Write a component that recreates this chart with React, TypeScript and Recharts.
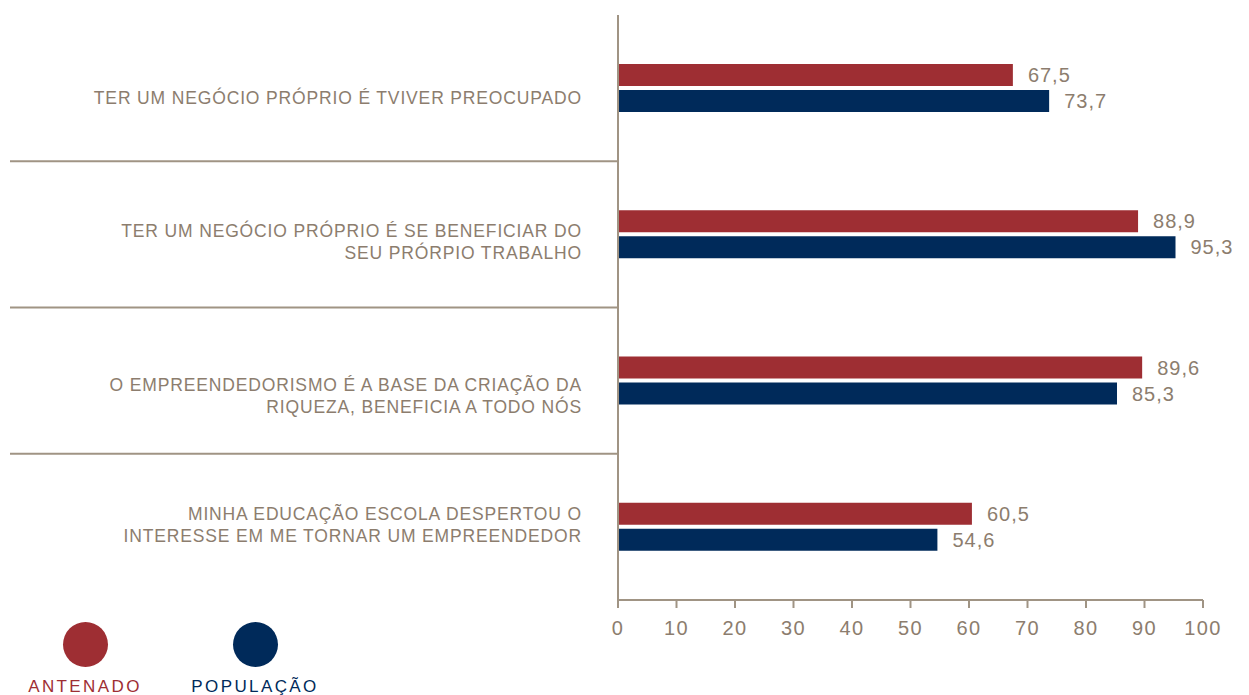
import React from 'react';
import { BarChart, Bar, XAxis, YAxis, LabelList } from 'recharts';

const categories = [
  'TER UM NEGÓCIO PRÓPRIO É TVIVER PREOCUPADO',
  'TER UM NEGÓCIO PRÓPRIO É SE BENEFICIAR DO\nSEU PRÓRPIO TRABALHO',
  'O EMPREENDEDORISMO É A BASE DA CRIAÇÃO DA\nRIQUEZA, BENEFICIA A TODO NÓS',
  'MINHA EDUCAÇÃO ESCOLA DESPERTOU O\nINTERESSE EM ME TORNAR UM EMPREENDEDOR',
];
const antenado = [67.5, 88.9, 89.6, 60.5];
const populacao = [73.7, 95.3, 85.3, 54.6];
const xTicks = [0, 10, 20, 30, 40, 50, 60, 70, 80, 90, 100];

const data = categories.map((name, i) => ({ name, antenado: antenado[i], populacao: populacao[i] }));

const W = 1249;
const H = 695;
const MARGIN = { top: 15, right: 46, bottom: 65, left: 0 };
const X_AXIS_H = 30;
const PLOT_H = H - MARGIN.top - MARGIN.bottom - X_AXIS_H;
const BAND = PLOT_H / categories.length;
// the original labels are not quite centred on their bar pairs
const LABEL_SHIFT = [10, 7, 15, -2];

const TAUPE = '#8c7d6e';
const LINE = '#a09484';
const RED = '#9e2e33';
const NAVY = '#002a5a';
const FONT = '"Liberation Sans", Arial, sans-serif';
const TICK_MARGIN = 36;

const fmt = (v: any) => Number(v).toFixed(1).replace('.', ',');

const CategoryTick = (props: any) => {
  const { x, y, payload, index } = props;
  const lines = String(payload.value).split('\n');
  const lh = 22;
  const startY = y + (LABEL_SHIFT[index] || 0) - ((lines.length - 1) * lh) / 2;
  return (
    <g>
      <text x={x} y={startY} textAnchor="end" fill={TAUPE} fontSize={17.5} letterSpacing={0.85} fontFamily={FONT}>
        {lines.map((l, i) => (
          <tspan key={i} x={x} y={startY + i * lh} dy="0.35em">{l}</tspan>
        ))}
      </text>
      {index < categories.length - 1 && (
        <line x1={10} x2={x + TICK_MARGIN} y1={y + BAND / 2} y2={y + BAND / 2} stroke={LINE} strokeWidth={2} />
      )}
    </g>
  );
};

const LegendItem = ({ color, label, left }: { color: string; label: string; left: number }) => (
  <div style={{ position: 'absolute', left, top: 622, width: 140, textAlign: 'center' }}>
    <div style={{ width: 45, height: 45, borderRadius: '50%', background: color, margin: '0 auto' }} />
    <div style={{ color, fontFamily: FONT, fontSize: 17, lineHeight: '20px', letterSpacing: 2.4, marginTop: 10 }}>{label}</div>
  </div>
);

const App: React.FC = () => {
  return (
    <div style={{ position: 'absolute', left: 0, top: 0, width: W, height: H, background: '#fff', overflow: 'hidden' }}>
      <BarChart width={W} height={H} data={data} layout="vertical" margin={MARGIN} barSize={22} barGap={4}>
        <XAxis
          type="number"
          domain={[0, 100]}
          ticks={xTicks}
          height={X_AXIS_H}
          stroke={LINE}
          strokeWidth={2}
          tickSize={8}
          tickMargin={13}
          tick={{ fill: TAUPE, fontSize: 20, fontFamily: FONT, letterSpacing: 1.3 }}
        />
        <YAxis
          type="category"
          dataKey="name"
          width={618}
          stroke={LINE}
          strokeWidth={2}
          tickLine={false}
          tickSize={0}
          tickMargin={TICK_MARGIN}
          tick={<CategoryTick />}
          interval={0}
        />
        <Bar dataKey="antenado" fill={RED} isAnimationActive={false}>
          <LabelList dataKey="antenado" position="right" offset={15} fill={TAUPE} fontSize={20} letterSpacing={1} fontFamily={FONT} formatter={fmt} />
        </Bar>
        <Bar dataKey="populacao" fill={NAVY} isAnimationActive={false}>
          <LabelList dataKey="populacao" position="right" offset={15} fill={TAUPE} fontSize={20} letterSpacing={1} fontFamily={FONT} formatter={fmt} />
        </Bar>
      </BarChart>
      <LegendItem color={RED} label="ANTENADO" left={15} />
      <LegendItem color={NAVY} label="POPULAÇÃO" left={185} />
    </div>
  );
};

export default App;
